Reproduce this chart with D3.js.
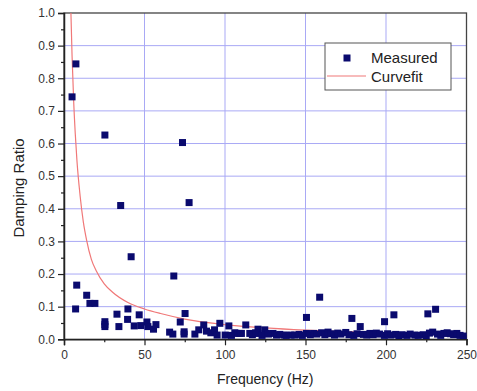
<!DOCTYPE html>
<html><head><meta charset="utf-8">
<script src="https://cdn.jsdelivr.net/npm/d3@7"></script>
<style>body{margin:0;background:#fff}svg{display:block}text{font-family:"Liberation Sans",Arial,sans-serif}</style>
</head><body>
<svg id="c" width="477" height="391"></svg>
<script>
// Measured points (frequency Hz, damping ratio)
const measuredFreq = [5.0, 7.4, 7.2, 7.9, 14.1, 16.1, 19.2, 25.4, 25.4, 25.4, 25.4, 32.9, 34.1, 35.2, 39.7, 39.5, 41.7, 43.6, 46.7, 47.7, 51.5, 52.1, 55.6, 57.1, 65.6, 67.6, 68.2, 72.2, 73.6, 74.6, 74.6, 75.2, 77.7, 81.3, 83.7, 86.8, 88.5, 91.2, 93.5, 95.1, 96.8, 100.1, 102.4, 106.1, 107.1, 109.2, 110.2, 112.9, 115.4, 120.5, 120.5, 124.7, 125.7, 129.8, 132, 136.7, 141, 143.3, 150.6, 150.6, 158.8, 178.8, 184, 199.1, 204.9, 226, 230.8,
  104, 117, 119, 123, 127, 134, 138, 146, 148, 153, 155, 157, 160, 162, 164, 166, 168, 170, 172, 175, 177, 180, 182, 186, 188, 190, 192, 194, 196, 199, 201, 203, 206, 208, 210, 213, 215, 218, 220, 223, 225, 227, 229, 232, 234, 236, 238, 240, 242, 244, 246, 248];
const measuredRatio = [0.743, 0.844, 0.093, 0.166, 0.135, 0.110, 0.110, 0.626, 0.054, 0.045, 0.039, 0.077, 0.039, 0.410, 0.093, 0.061, 0.253, 0.041, 0.075, 0.042, 0.053, 0.039, 0.031, 0.045, 0.022, 0.016, 0.194, 0.053, 0.603, 0.023, 0.016, 0.079, 0.419, 0.016, 0.029, 0.044, 0.025, 0.020, 0.029, 0.013, 0.049, 0.013, 0.041, 0.020, 0.018, 0.018, 0.018, 0.044, 0.018, 0.031, 0.018, 0.029, 0.018, 0.018, 0.013, 0.013, 0.013, 0.013, 0.067, 0.018, 0.129, 0.064, 0.039, 0.054, 0.075, 0.078, 0.092,
  0.012, 0.014, 0.020, 0.012, 0.016, 0.015, 0.012, 0.015, 0.012, 0.014, 0.018, 0.016, 0.020, 0.014, 0.022, 0.017, 0.013, 0.019, 0.016, 0.021, 0.014, 0.012, 0.017, 0.015, 0.013, 0.018, 0.014, 0.019, 0.016, 0.012, 0.017, 0.013, 0.015, 0.011, 0.014, 0.012, 0.016, 0.013, 0.012, 0.014, 0.011, 0.019, 0.022, 0.016, 0.012, 0.018, 0.020, 0.017, 0.014, 0.018, 0.012, 0.010];
// Curve fit
const curveFreq = [4.3, 5, 6, 7, 8, 10, 12, 14, 17, 20, 25, 30, 40, 50, 60, 75, 100, 125, 150, 200, 250];
const curveRatio = [1.0, 0.87, 0.73, 0.63, 0.55, 0.44, 0.36, 0.305, 0.245, 0.21, 0.17, 0.145, 0.112, 0.093, 0.079, 0.062, 0.045, 0.035, 0.028, 0.02, 0.015];
const xTicks = [0, 50, 100, 150, 200, 250];
const yTicks = [0.0, 0.1, 0.2, 0.3, 0.4, 0.5, 0.6, 0.7, 0.8, 0.9, 1.0];
const seriesNames = ["Measured", "Curvefit"];

const svg = d3.select("#c");
const L = 64, R = 466.5, T = 13, B = 339.3;
const x = d3.scaleLinear().domain([0, 250]).range([L, R]);
const y = d3.scaleLinear().domain([0, 1]).range([B, T]);
const grid = "#a9a9f5";

// grid
svg.append("g").selectAll("line").data(xTicks.slice(1, -1)).join("line")
  .attr("x1", d => x(d)).attr("x2", d => x(d)).attr("y1", T).attr("y2", B)
  .attr("stroke", grid).attr("stroke-width", 1);
svg.append("g").selectAll("line").data(yTicks.slice(1, -1)).join("line")
  .attr("y1", d => y(d)).attr("y2", d => y(d)).attr("x1", L).attr("x2", R)
  .attr("stroke", grid).attr("stroke-width", 1);

// frame
svg.append("rect").attr("x", L).attr("y", T).attr("width", R - L).attr("height", B - T)
  .attr("fill", "none").attr("stroke", "#444").attr("stroke-width", 1.3);

const clip = svg.append("clipPath").attr("id", "clip").append("rect")
  .attr("x", L).attr("y", T).attr("width", R - L).attr("height", B - T);

// curve
svg.append("path").datum(curveFreq.map((f, i) => [f, curveRatio[i]]))
  .attr("clip-path", "url(#clip)")
  .attr("d", d3.line().x(d => x(d[0])).y(d => y(d[1])).curve(d3.curveMonotoneX))
  .attr("fill", "none").attr("stroke", "#f07878").attr("stroke-width", 1.2);

// points
const s = 7;
svg.append("g").selectAll("rect").data(measuredFreq.map((f, i) => [f, measuredRatio[i]])).join("rect")
  .attr("x", d => x(d[0]) - s / 2).attr("y", d => y(d[1]) - s / 2)
  .attr("width", s).attr("height", s).attr("fill", "#0a0a6e");

// axes
const xAxis = svg.append("g").attr("transform", `translate(0,${B})`)
  .call(d3.axisBottom(x).tickValues(xTicks).tickFormat(d3.format("d")).tickSize(6).tickPadding(5));
svg.append("g").attr("transform", `translate(0,${B})`)
  .call(d3.axisBottom(x).tickValues(d3.range(25, 250, 50)).tickFormat("").tickSize(3))
  .call(g => g.select(".domain").remove());
const yAxis = svg.append("g").attr("transform", `translate(${L},0)`)
  .call(d3.axisLeft(y).tickValues(yTicks).tickFormat(d3.format(".1f")).tickSize(6).tickPadding(3));
svg.append("g").attr("transform", `translate(${L},0)`)
  .call(d3.axisLeft(y).tickValues(d3.range(0.05, 1, 0.1)).tickFormat("").tickSize(3))
  .call(g => g.select(".domain").remove());
svg.selectAll(".domain").attr("stroke", "#222").attr("stroke-width", 1.5);
svg.selectAll(".tick line").attr("stroke", "#222").attr("stroke-width", 1.2);
svg.selectAll(".tick text").attr("font-size", 12).attr("fill", "#333")
  .attr("font-family", '"Liberation Sans",Arial,sans-serif');

// titles
svg.append("text").attr("x", (L + R) / 2).attr("y", 384).attr("text-anchor", "middle")
  .attr("font-size", 14).attr("fill", "#222").text("Frequency (Hz)");
svg.append("text").attr("transform", "translate(24,188) rotate(-90)").attr("text-anchor", "middle")
  .attr("font-size", 15).attr("fill", "#222").text("Damping Ratio");

// legend
const lg = svg.append("g");
lg.append("rect").attr("x", 325).attr("y", 43).attr("width", 126).attr("height", 47)
  .attr("fill", "#fff").attr("stroke", "#555").attr("stroke-width", 1);
lg.append("rect").attr("x", 347 - s / 2).attr("y", 58 - s / 2).attr("width", s).attr("height", s).attr("fill", "#0a0a6e");
lg.append("line").attr("x1", 327).attr("x2", 366).attr("y1", 76).attr("y2", 76)
  .attr("stroke", "#f07878").attr("stroke-width", 1.2);
lg.selectAll("text.l").data(seriesNames).join("text").attr("class", "l")
  .attr("x", 371).attr("y", (d, i) => 63 + i * 18.5).attr("font-size", 15).attr("fill", "#222").text(d => d);
</script>
</body></html>
